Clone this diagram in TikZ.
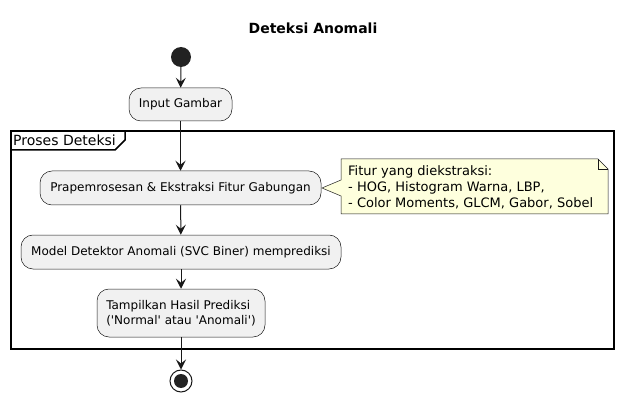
\documentclass[tikz,border=0pt]{standalone}
\usepackage{fontspec}
\setmainfont{DejaVu Sans}
\usetikzlibrary{arrows.meta}
\definecolor{boxfill}{HTML}{F1F1F1}
\definecolor{linec}{HTML}{181818}
\definecolor{notefill}{HTML}{FEFFDD}
\definecolor{dotc}{HTML}{222222}
\newcommand{\sq}{\textquotesingle}
\tikzset{
  actbox/.style={draw=linec, fill=boxfill, rounded corners=12pt, line width=0.5pt, inner sep=0pt, font=\fontsize{12}{15}\selectfont, align=center},
  flow/.style={draw=linec, line width=1pt, -{Stealth[length=10pt,width=10pt,inset=4pt]}},
  notebody/.style={draw=linec, fill=notefill, line width=0.5pt},
}
\begin{document}
\begin{tikzpicture}[x=1pt,y=-1pt]
\useasboundingbox (0,0) rectangle (627,401);
\node[font=\fontsize{14}{16}\selectfont\bfseries] (title) at (313,28) {Deteksi Anomali};
% frame
\draw[line width=1.5pt] (11,131) rectangle (614,349);
\draw[line width=1.5pt] (11,150) -- (115,150) -- (125,140) -- (125,131);
\node[anchor=west, inner sep=0pt, font=\fontsize{14}{16}\selectfont] (framelabel) at (13,140.5) {Proses Deteksi};
% start
\node[circle, fill=dotc, minimum size=20pt, inner sep=0pt] (start) at (181,57) {};
% activities
\node[actbox, minimum width=103pt, minimum height=33pt] (input) at (180.5,104.5) {Input Gambar};
\node[actbox, minimum width=281pt, minimum height=34pt] (prap) at (180.5,188) {Prapemrosesan \& Ekstraksi Fitur Gabungan};
\node[actbox, minimum width=320pt, minimum height=34pt] (model) at (181,252) {Model Detektor Anomali (SVC Biner) memprediksi};
\node[actbox, minimum width=168pt, minimum height=48pt, align=left] (tamp) at (181,313) {Tampilkan Hasil Prediksi\\(\sq Normal\sq{} atau \sq Anomali\sq)};
% end
\node[circle, draw=linec, fill=white, line width=1pt, minimum size=22pt, inner sep=0pt] (end) at (181,381) {};
\node[circle, fill=dotc, minimum size=14pt, inner sep=0pt] (endin) at (181,381) {};
% note
\coordinate (ntip) at (322,188);
\draw[notebody] (341,159) -- (598,159) -- (608,169) -- (608,214) -- (341,214) -- (341,196) -- (ntip) -- (341,180) -- cycle;
\draw[linec, line width=0.5pt] (598,159) -- (598,169) -- (608,169);
\node[anchor=north west, align=left, inner sep=0pt, font=\fontsize{13}{16}\selectfont] (note) at (348,165.5) {Fitur yang diekstraksi:\\- HOG, Histogram Warna, LBP,\\- Color Moments, GLCM, Gabor, Sobel};
% flows
\draw[flow] (start) -- (input);
\draw[flow] (input) -- (prap);
\draw[flow] (prap) -- (model);
\draw[flow] (model) -- (tamp);
\draw[flow] (tamp) -- (end);
\end{tikzpicture}
\end{document}
